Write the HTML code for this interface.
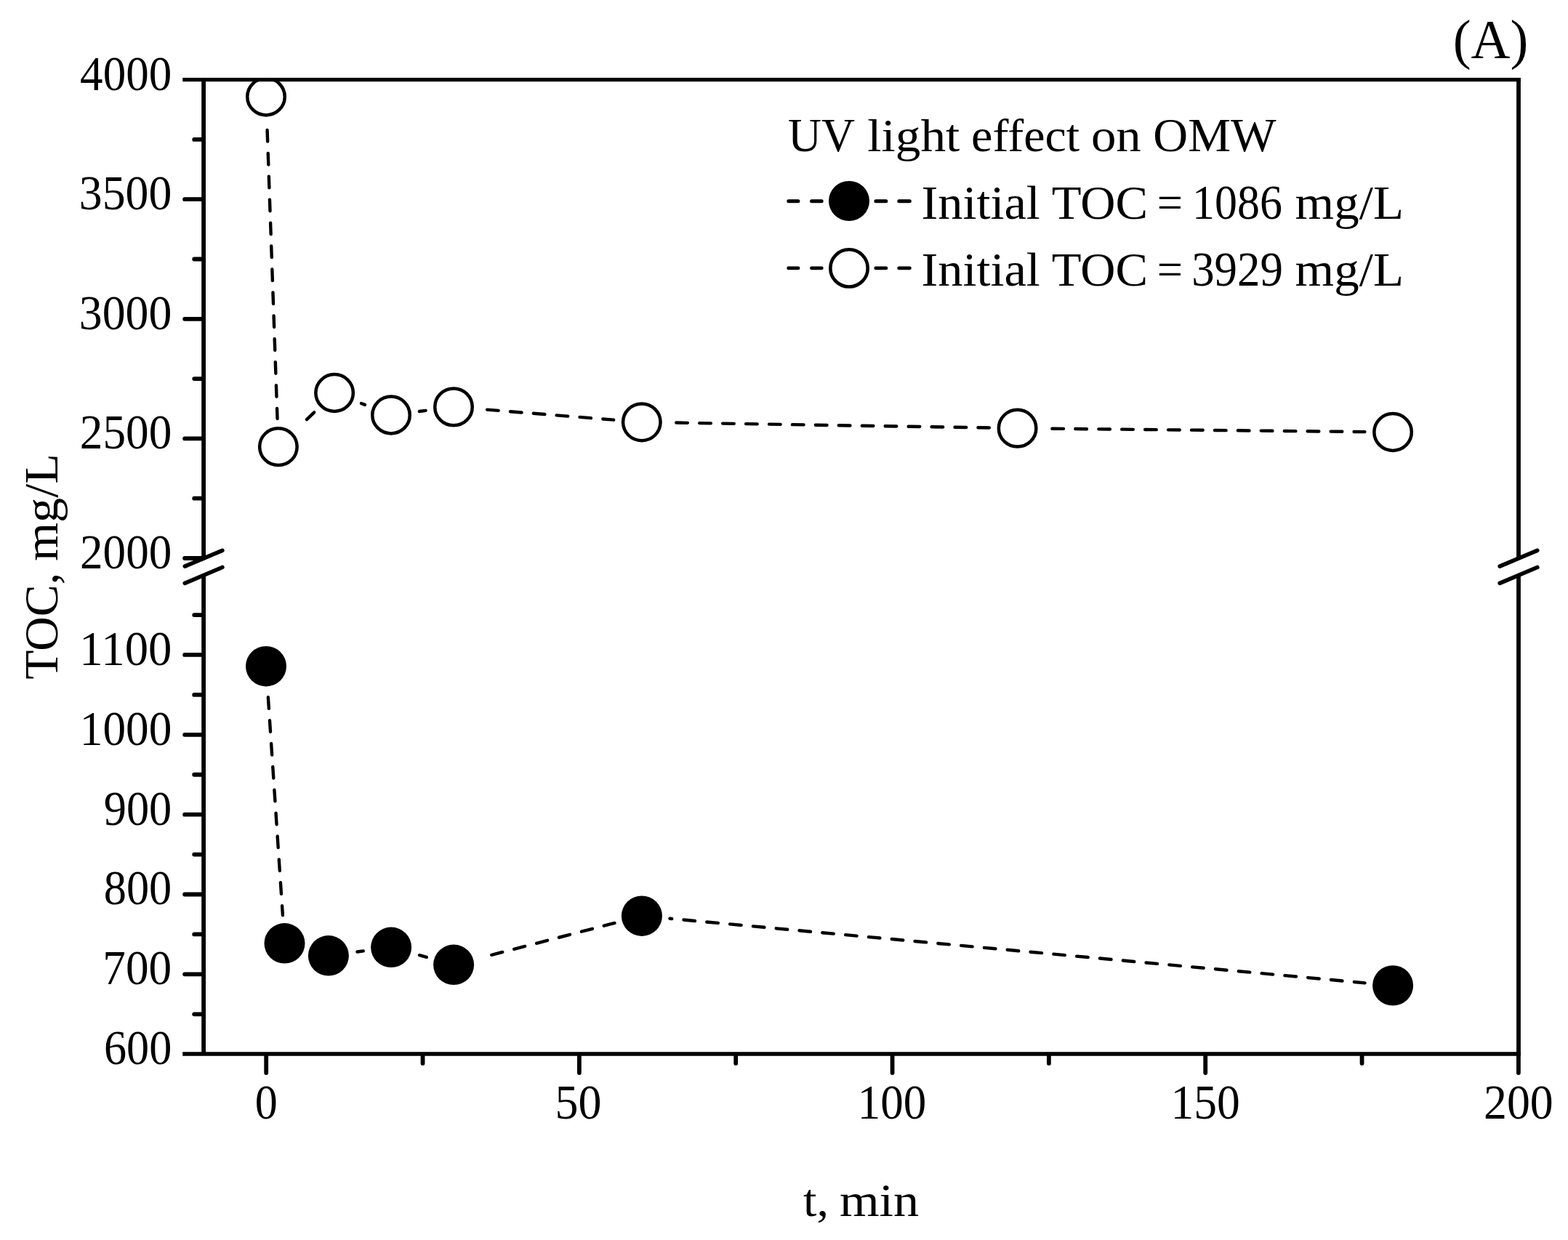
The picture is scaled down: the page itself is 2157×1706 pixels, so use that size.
<!DOCTYPE html>
<html lang="en"><head><meta charset="utf-8"><title>UV light effect on OMW</title>
<style>html,body{margin:0;padding:0;background:#fff;}body{width:2157px;height:1706px;overflow:hidden;}svg{display:block;}text{font-family:"Liberation Serif","DejaVu Serif",serif;fill:#000;}</style>
</head><body>
<svg width="2157" height="1706" viewBox="0 0 2157 1706" role="img" aria-label="TOC versus time under UV light for olive mill wastewater">
<rect x="0" y="0" width="2157" height="1706" fill="#fff"/>
<defs><clipPath id="plot"><rect x="280.10" y="107.00" width="1808.90" height="1346.20"/></clipPath></defs>
<g clip-path="url(#plot)">
<g stroke="#000" stroke-width="4.40" fill="none" stroke-linecap="round">
<line x1="367.61" y1="178.97" x2="368.16" y2="194.56"/>
<line x1="368.73" y1="210.89" x2="369.28" y2="226.48"/>
<line x1="369.85" y1="242.81" x2="370.40" y2="258.40"/>
<line x1="370.97" y1="274.73" x2="371.52" y2="290.32"/>
<line x1="372.09" y1="306.65" x2="372.64" y2="322.24"/>
<line x1="373.21" y1="338.57" x2="373.76" y2="354.16"/>
<line x1="374.33" y1="370.49" x2="374.88" y2="386.08"/>
<line x1="375.45" y1="402.41" x2="376.00" y2="418.00"/>
<line x1="376.57" y1="434.33" x2="377.12" y2="449.93"/>
<line x1="377.69" y1="466.25" x2="378.24" y2="481.85"/>
<line x1="378.81" y1="498.18" x2="379.36" y2="513.77"/>
<line x1="379.93" y1="530.10" x2="380.48" y2="545.69"/>
<line x1="381.05" y1="562.02" x2="381.54" y2="576.02"/>
<line x1="421.98" y1="577.14" x2="432.20" y2="567.32"/>
<line x1="496.97" y1="554.94" x2="501.96" y2="556.89"/>
<line x1="576.88" y1="565.98" x2="585.62" y2="564.85"/>
<line x1="670.15" y1="563.63" x2="685.70" y2="564.88"/>
<line x1="701.99" y1="566.20" x2="717.54" y2="567.45"/>
<line x1="733.82" y1="568.77" x2="749.37" y2="570.02"/>
<line x1="765.66" y1="571.34" x2="781.21" y2="572.60"/>
<line x1="797.50" y1="573.91" x2="813.04" y2="575.17"/>
<line x1="829.33" y1="576.48" x2="844.23" y2="577.68"/>
<line x1="930.29" y1="581.57" x2="945.89" y2="581.83"/>
<line x1="962.23" y1="582.09" x2="977.83" y2="582.34"/>
<line x1="994.17" y1="582.61" x2="1009.76" y2="582.86"/>
<line x1="1026.10" y1="583.13" x2="1041.70" y2="583.38"/>
<line x1="1058.04" y1="583.65" x2="1073.63" y2="583.90"/>
<line x1="1089.97" y1="584.17" x2="1105.57" y2="584.42"/>
<line x1="1121.91" y1="584.69" x2="1137.51" y2="584.94"/>
<line x1="1153.84" y1="585.21" x2="1169.44" y2="585.46"/>
<line x1="1185.78" y1="585.72" x2="1201.38" y2="585.98"/>
<line x1="1217.72" y1="586.24" x2="1233.31" y2="586.50"/>
<line x1="1249.65" y1="586.76" x2="1265.25" y2="587.02"/>
<line x1="1281.59" y1="587.28" x2="1297.19" y2="587.54"/>
<line x1="1313.52" y1="587.80" x2="1329.12" y2="588.05"/>
<line x1="1345.46" y1="588.32" x2="1360.91" y2="588.57"/>
<line x1="1447.40" y1="589.69" x2="1463.00" y2="589.85"/>
<line x1="1479.34" y1="590.02" x2="1494.93" y2="590.18"/>
<line x1="1511.27" y1="590.35" x2="1526.87" y2="590.51"/>
<line x1="1543.21" y1="590.67" x2="1558.81" y2="590.83"/>
<line x1="1575.15" y1="591.00" x2="1590.75" y2="591.16"/>
<line x1="1607.09" y1="591.33" x2="1622.69" y2="591.49"/>
<line x1="1639.03" y1="591.66" x2="1654.63" y2="591.82"/>
<line x1="1670.97" y1="591.98" x2="1686.56" y2="592.14"/>
<line x1="1702.90" y1="592.31" x2="1718.50" y2="592.47"/>
<line x1="1734.84" y1="592.64" x2="1750.44" y2="592.80"/>
<line x1="1766.78" y1="592.97" x2="1782.38" y2="593.13"/>
<line x1="1798.72" y1="593.30" x2="1814.32" y2="593.46"/>
<line x1="1830.66" y1="593.62" x2="1846.26" y2="593.78"/>
<line x1="1862.60" y1="593.95" x2="1877.40" y2="594.10"/>
<line x1="368.85" y1="959.30" x2="369.89" y2="974.87"/>
<line x1="370.98" y1="991.17" x2="372.02" y2="1006.74"/>
<line x1="373.12" y1="1023.04" x2="374.16" y2="1038.61"/>
<line x1="375.25" y1="1054.91" x2="376.29" y2="1070.48"/>
<line x1="377.38" y1="1086.78" x2="378.42" y2="1102.34"/>
<line x1="379.51" y1="1118.65" x2="380.55" y2="1134.21"/>
<line x1="381.65" y1="1150.52" x2="382.69" y2="1166.08"/>
<line x1="383.78" y1="1182.39" x2="384.82" y2="1197.95"/>
<line x1="385.91" y1="1214.25" x2="386.95" y2="1229.82"/>
<line x1="388.04" y1="1246.12" x2="388.92" y2="1259.19"/>
<line x1="491.45" y1="1309.52" x2="499.74" y2="1308.42"/>
<line x1="577.01" y1="1314.16" x2="586.82" y2="1316.90"/>
<line x1="676.18" y1="1313.80" x2="691.28" y2="1309.88"/>
<line x1="707.10" y1="1305.78" x2="722.20" y2="1301.87"/>
<line x1="738.01" y1="1297.77" x2="753.11" y2="1293.85"/>
<line x1="768.93" y1="1289.75" x2="784.03" y2="1285.83"/>
<line x1="799.85" y1="1281.73" x2="814.95" y2="1277.82"/>
<line x1="830.77" y1="1273.72" x2="845.44" y2="1269.91"/>
<line x1="921.44" y1="1263.77" x2="924.22" y2="1264.03"/>
<line x1="940.49" y1="1265.53" x2="956.03" y2="1266.97"/>
<line x1="972.30" y1="1268.48" x2="987.83" y2="1269.92"/>
<line x1="1004.10" y1="1271.43" x2="1019.63" y2="1272.87"/>
<line x1="1035.91" y1="1274.37" x2="1051.44" y2="1275.81"/>
<line x1="1067.71" y1="1277.32" x2="1083.24" y2="1278.76"/>
<line x1="1099.51" y1="1280.26" x2="1115.05" y2="1281.70"/>
<line x1="1131.32" y1="1283.21" x2="1146.85" y2="1284.65"/>
<line x1="1163.12" y1="1286.16" x2="1178.65" y2="1287.59"/>
<line x1="1194.92" y1="1289.10" x2="1210.46" y2="1290.54"/>
<line x1="1226.73" y1="1292.05" x2="1242.26" y2="1293.49"/>
<line x1="1258.53" y1="1294.99" x2="1274.07" y2="1296.43"/>
<line x1="1290.34" y1="1297.94" x2="1305.87" y2="1299.38"/>
<line x1="1322.14" y1="1300.88" x2="1337.67" y2="1302.32"/>
<line x1="1353.94" y1="1303.83" x2="1369.48" y2="1305.27"/>
<line x1="1385.75" y1="1306.78" x2="1401.28" y2="1308.21"/>
<line x1="1417.55" y1="1309.72" x2="1433.08" y2="1311.16"/>
<line x1="1449.36" y1="1312.67" x2="1464.89" y2="1314.11"/>
<line x1="1481.16" y1="1315.61" x2="1496.69" y2="1317.05"/>
<line x1="1512.96" y1="1318.56" x2="1528.50" y2="1320.00"/>
<line x1="1544.77" y1="1321.51" x2="1560.30" y2="1322.94"/>
<line x1="1576.57" y1="1324.45" x2="1592.10" y2="1325.89"/>
<line x1="1608.37" y1="1327.40" x2="1623.91" y2="1328.84"/>
<line x1="1640.18" y1="1330.34" x2="1655.71" y2="1331.78"/>
<line x1="1671.98" y1="1333.29" x2="1687.52" y2="1334.73"/>
<line x1="1703.79" y1="1336.23" x2="1719.32" y2="1337.67"/>
<line x1="1735.59" y1="1339.18" x2="1751.12" y2="1340.62"/>
<line x1="1767.39" y1="1342.13" x2="1782.93" y2="1343.56"/>
<line x1="1799.20" y1="1345.07" x2="1814.73" y2="1346.51"/>
<line x1="1831.00" y1="1348.02" x2="1846.54" y2="1349.46"/>
<line x1="1862.81" y1="1350.96" x2="1877.56" y2="1352.33"/>
</g>
<g stroke="#000" stroke-width="4.5" fill="#fff">
<ellipse cx="366.00" cy="133.00" rx="25.75" ry="25.4"/>
<ellipse cx="382.90" cy="614.70" rx="25.75" ry="25.4"/>
<ellipse cx="460.10" cy="540.50" rx="25.75" ry="25.4"/>
<ellipse cx="538.00" cy="571.00" rx="25.75" ry="25.4"/>
<ellipse cx="624.00" cy="559.90" rx="25.75" ry="25.4"/>
<ellipse cx="882.80" cy="580.80" rx="25.75" ry="25.4"/>
<ellipse cx="1399.60" cy="589.20" rx="25.75" ry="25.4"/>
<ellipse cx="1916.10" cy="594.50" rx="25.75" ry="25.4"/>
</g>
<g fill="#000">
<ellipse cx="366.00" cy="916.70" rx="28.0" ry="27.7"/>
<ellipse cx="391.50" cy="1297.80" rx="28.0" ry="27.7"/>
<ellipse cx="451.90" cy="1314.80" rx="28.0" ry="27.7"/>
<ellipse cx="538.10" cy="1303.30" rx="28.0" ry="27.7"/>
<ellipse cx="624.10" cy="1327.30" rx="28.0" ry="27.7"/>
<ellipse cx="882.90" cy="1260.20" rx="28.0" ry="27.7"/>
<ellipse cx="1916.10" cy="1355.90" rx="28.0" ry="27.7"/>
</g>
</g>
<g stroke="#000" stroke-width="5.80" fill="none" stroke-linecap="butt">
<line x1="251.20" y1="109.60" x2="2091.90" y2="109.60" stroke-width="5.3"/>
<line x1="251.20" y1="1450.00" x2="2091.90" y2="1450.00" stroke-width="5.6"/>
<line x1="280.10" y1="109.60" x2="280.10" y2="769.00"/>
<line x1="280.10" y1="791.50" x2="280.10" y2="1450.00"/>
<line x1="2089.00" y1="109.60" x2="2089.00" y2="769.00"/>
<line x1="2089.00" y1="791.50" x2="2089.00" y2="1450.00"/>
</g>
<g stroke="#000" stroke-width="5.80" stroke-linecap="round">
<line x1="254.10" y1="274.20" x2="280.10" y2="274.20"/>
<line x1="254.10" y1="438.80" x2="280.10" y2="438.80"/>
<line x1="254.10" y1="603.40" x2="280.10" y2="603.40"/>
<line x1="254.10" y1="768.00" x2="280.10" y2="768.00"/>
<line x1="267.20" y1="191.90" x2="280.10" y2="191.90"/>
<line x1="267.20" y1="356.50" x2="280.10" y2="356.50"/>
<line x1="267.20" y1="521.10" x2="280.10" y2="521.10"/>
<line x1="267.20" y1="685.70" x2="280.10" y2="685.70"/>
<line x1="254.10" y1="900.95" x2="280.10" y2="900.95"/>
<line x1="254.10" y1="1010.80" x2="280.10" y2="1010.80"/>
<line x1="254.10" y1="1120.65" x2="280.10" y2="1120.65"/>
<line x1="254.10" y1="1230.50" x2="280.10" y2="1230.50"/>
<line x1="254.10" y1="1340.35" x2="280.10" y2="1340.35"/>
<line x1="267.20" y1="846.03" x2="280.10" y2="846.03"/>
<line x1="267.20" y1="955.88" x2="280.10" y2="955.88"/>
<line x1="267.20" y1="1065.73" x2="280.10" y2="1065.73"/>
<line x1="267.20" y1="1175.58" x2="280.10" y2="1175.58"/>
<line x1="267.20" y1="1285.43" x2="280.10" y2="1285.43"/>
<line x1="267.20" y1="1395.28" x2="280.10" y2="1395.28"/>
<line x1="366.20" y1="1451.00" x2="366.20" y2="1476.00"/>
<line x1="796.88" y1="1451.00" x2="796.88" y2="1476.00"/>
<line x1="1227.55" y1="1451.00" x2="1227.55" y2="1476.00"/>
<line x1="1658.23" y1="1451.00" x2="1658.23" y2="1476.00"/>
<line x1="2088.90" y1="1451.00" x2="2088.90" y2="1476.00"/>
<line x1="581.54" y1="1451.00" x2="581.54" y2="1462.90"/>
<line x1="1012.21" y1="1451.00" x2="1012.21" y2="1462.90"/>
<line x1="1442.89" y1="1451.00" x2="1442.89" y2="1462.90"/>
<line x1="1873.56" y1="1451.00" x2="1873.56" y2="1462.90"/>
</g>
<g stroke="#000" stroke-width="5.6" stroke-linecap="round">
<line x1="254.30" y1="779.10" x2="305.90" y2="757.30"/>
<line x1="254.30" y1="802.30" x2="305.90" y2="780.50"/>
<line x1="2063.20" y1="779.10" x2="2114.80" y2="757.30"/>
<line x1="2063.20" y1="802.30" x2="2114.80" y2="780.50"/>
</g>
<g stroke="#000" stroke-width="5.0" stroke-linecap="round">
<line x1="1084.80" y1="276.70" x2="1097.90" y2="276.70"/>
<line x1="1116.60" y1="276.70" x2="1130.20" y2="276.70"/>
<line x1="1204.90" y1="276.70" x2="1218.80" y2="276.70"/>
<line x1="1236.80" y1="276.70" x2="1251.30" y2="276.70"/>
</g>
<g stroke="#000" stroke-width="4.7" stroke-linecap="round">
<line x1="1084.65" y1="368.90" x2="1098.05" y2="368.90"/>
<line x1="1116.45" y1="368.90" x2="1130.35" y2="368.90"/>
<line x1="1204.75" y1="368.90" x2="1218.95" y2="368.90"/>
<line x1="1236.65" y1="368.90" x2="1251.45" y2="368.90"/>
</g>
<ellipse cx="1168.0" cy="276.5" rx="28.0" ry="27.6" fill="#000"/>
<ellipse cx="1168.0" cy="368.9" rx="25.7" ry="25.6" fill="#fff" stroke="#000" stroke-width="4.6"/>
<text transform="translate(110.11,123.50) scale(0.9429,1.0000)" font-size="66.90">4000</text>
<text transform="translate(108.81,288.10) scale(0.9528,1.0000)" font-size="66.90">3500</text>
<text transform="translate(108.81,452.70) scale(0.9528,1.0000)" font-size="66.90">3000</text>
<text transform="translate(109.82,617.30) scale(0.9451,1.0000)" font-size="66.90">2500</text>
<text transform="translate(110.03,781.90) scale(0.9435,1.0000)" font-size="66.90">2000</text>
<text transform="translate(109.35,914.85) scale(0.9669,1.0000)" font-size="66.90">1100</text>
<text transform="translate(109.86,1024.70) scale(0.9448,1.0000)" font-size="66.90">1000</text>
<text transform="translate(142.75,1134.55) scale(0.9317,1.0000)" font-size="66.90">900</text>
<text transform="translate(142.75,1244.40) scale(0.9317,1.0000)" font-size="66.90">800</text>
<text transform="translate(141.34,1354.25) scale(0.9460,1.0000)" font-size="66.90">700</text>
<text transform="translate(142.96,1464.10) scale(0.9296,1.0000)" font-size="66.90">600</text>
<text transform="translate(350.66,1538.60) scale(0.9293,1.0000)" font-size="66.90">0</text>
<text transform="translate(763.50,1538.60) scale(0.9567,1.0000)" font-size="66.90">50</text>
<text transform="translate(1179.67,1538.60) scale(0.9427,1.0000)" font-size="66.90">100</text>
<text transform="translate(1610.43,1538.60) scale(0.9502,1.0000)" font-size="66.90">150</text>
<text transform="translate(2041.00,1538.60) scale(0.9546,1.0000)" font-size="66.90">200</text>
<text y="1673.00"><tspan x="1105.00" font-size="63.50" textLength="35.05" lengthAdjust="spacingAndGlyphs">t,</tspan> <tspan x="1154.90" font-size="63.50" textLength="109.30" lengthAdjust="spacingAndGlyphs">min</tspan></text>
<text transform="translate(1998.67,80.00) scale(0.9695,1.0000)" font-size="77.00">(A)</text>
<text y="207.95"><tspan x="1084.00" font-size="65.80" textLength="92.11" lengthAdjust="spacingAndGlyphs">UV</tspan> <tspan x="1193.32" font-size="63.50" textLength="126.95" lengthAdjust="spacingAndGlyphs">light</tspan> <tspan x="1336.14" font-size="63.50" textLength="149.04" lengthAdjust="spacingAndGlyphs">effect</tspan> <tspan x="1500.95" font-size="63.50" textLength="68.85" lengthAdjust="spacingAndGlyphs">on</tspan> <tspan x="1586.33" font-size="65.80" textLength="169.26" lengthAdjust="spacingAndGlyphs">OMW</tspan></text>
<text y="300.70"><tspan x="1267.46" font-size="65.80" textLength="163.37" lengthAdjust="spacingAndGlyphs">Initial</tspan> <tspan x="1446.76" font-size="65.80" textLength="132.35" lengthAdjust="spacingAndGlyphs">TOC</tspan> <tspan x="1591.87" font-size="65.80" textLength="35.25" lengthAdjust="spacingAndGlyphs">=</tspan> <tspan x="1640.06" font-size="66.90" textLength="123.91" lengthAdjust="spacingAndGlyphs">1086</tspan> <tspan x="1781.62" font-size="65.80" textLength="149.41" lengthAdjust="spacingAndGlyphs">mg/L</tspan></text>
<text y="392.60"><tspan x="1267.46" font-size="65.80" textLength="163.37" lengthAdjust="spacingAndGlyphs">Initial</tspan> <tspan x="1446.76" font-size="65.80" textLength="132.35" lengthAdjust="spacingAndGlyphs">TOC</tspan> <tspan x="1591.87" font-size="65.80" textLength="35.25" lengthAdjust="spacingAndGlyphs">=</tspan> <tspan x="1639.15" font-size="66.90" textLength="125.81" lengthAdjust="spacingAndGlyphs">3929</tspan> <tspan x="1781.62" font-size="65.80" textLength="149.41" lengthAdjust="spacingAndGlyphs">mg/L</tspan></text>
<text transform="translate(79.10,933.80) rotate(-90)" y="0"><tspan x="-1.03" font-size="65.80" textLength="146.94" lengthAdjust="spacingAndGlyphs">TOC,</tspan> <tspan x="161.83" font-size="65.80" textLength="147.87" lengthAdjust="spacingAndGlyphs">mg/L</tspan></text>
</svg>
</body></html>
